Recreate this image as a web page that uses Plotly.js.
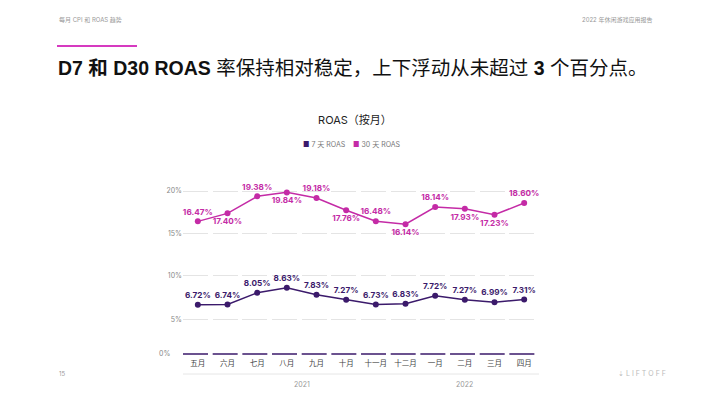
<!DOCTYPE html>
<html><head><meta charset="utf-8">
<script src="https://cdn.plot.ly/plotly-3.0.1.min.js"></script>
<style>html,body{margin:0;padding:0;background:#fff;}#chart{width:710px;height:399px;}</style>
</head><body><div id="chart"></div>
<script>
const months = ['五月','六月','七月','八月','九月','十月','十一月','十二月','一月','二月','三月','四月'];
const roas7 = [6.72, 6.74, 8.05, 8.63, 7.83, 7.27, 6.73, 6.83, 7.72, 7.27, 6.99, 7.31];
const roas30 = [16.47, 17.40, 19.38, 19.84, 19.18, 17.76, 16.48, 16.14, 18.14, 17.93, 17.23, 18.60];
const topTicks = [15, 20];
const midTicks = [5, 10];
const years = ['2021', '2022'];

const H = 399;
const W = 356, L = 183;
const f = px => 1 - px / H;
const gx = px => (px - L) / W;
const purple = '#3b1a6b';
const magenta = '#c42ba6';
const fontCJK = 'Inter, "Noto Sans CJK SC", sans-serif';
const dash = '25px,4.67px';

const pos30 = ['top center','bottom center','top center','bottom center','top center','bottom center','top center','bottom center','top center','bottom center','bottom center','top center'];

const traces = [
  {x: months, y: roas30, xaxis:'x', yaxis:'y', mode:'lines+markers+text', name:'30 天 ROAS',
   line:{color:magenta, width:1.5}, marker:{color:magenta, size:6},
   text: roas30.map(v => v.toFixed(2) + '%'), textposition: pos30,
   textfont:{color:magenta, size:8.2, family:'Inter, sans-serif', weight:700}, cliponaxis:false},
  {x: months, y: roas7, xaxis:'x', yaxis:'y2', mode:'lines+markers+text', name:'7 天 ROAS',
   line:{color:purple, width:1.5}, marker:{color:purple, size:6},
   text: roas7.map(v => v.toFixed(2) + '%'), textposition:'top center',
   textfont:{color:purple, size:8.2, family:'Inter, sans-serif', weight:700}, cliponaxis:false}
];

const yCommon = {anchor:'x', showline:false, zeroline:false, ticks:'',
  tickfont:{size:7, color:'#888', family:fontCJK}, gridcolor:'#e4e4e4', gridwidth:1, griddash:dash, fixedrange:true};

const layout = {
  width:710, height:399,
  margin:{l:L, r:710-L-W, t:0, b:0},
  paper_bgcolor:'#fff', plot_bgcolor:'rgba(0,0,0,0)',
  showlegend:false,
  title:{text:'ROAS（按月）', x:0.5, xanchor:'center', y:f(120), yanchor:'middle',
    font:{size:11, color:'#222', family:fontCJK}},
  xaxis:{type:'category', anchor:'free', position:f(357), domain:[0,1], range:[-0.5, 11.5], showgrid:false, showline:false, zeroline:false,
    ticks:'', ticklabelstandoff:0, tickfont:{size:7.5, color:'#444', family:fontCJK}, fixedrange:true},
  yaxis: Object.assign({}, yCommon, {domain:[f(245), f(180)], range:[13.72, 21.28], tickvals: topTicks, ticktext: topTicks.map(v => v + '%')}),
  yaxis2: Object.assign({}, yCommon, {domain:[f(330), f(262)], range:[3.86, 11.53], tickvals: midTicks, ticktext: midTicks.map(v => v + '%')}),
  shapes:[
    {type:'line', xref:'x domain', yref:'paper', x0:0, x1:1, y0:f(354), y1:f(354), line:{color:purple, width:1.6, dash:dash}},
    {type:'line', xref:'x domain', yref:'paper', x0:0, x1:1, y0:f(374), y1:f(374), line:{color:'#e6e6e6', width:1}},
    {type:'line', xref:'paper', yref:'paper', x0:gx(57), x1:gx(137), y0:f(46), y1:f(46), line:{color:'#d63ac0', width:2}}
  ],
  annotations:[
    {text:'0%', xref:'paper', yref:'paper', x:gx(172), xanchor:'right', y:f(353), yanchor:'middle', showarrow:false,
     font:{size:7, color:'#888', family:fontCJK}},
    {text:'<span style="color:' + purple + '">■</span> 7 天 ROAS    <span style="color:' + magenta + '">■</span> 30 天 ROAS',
     xref:'paper', yref:'paper', x:gx(352), xanchor:'center', y:f(145), yanchor:'middle', showarrow:false,
     font:{size:7, color:'#777', family:fontCJK}},
    {text:years[0], xref:'x', x:3.5, yref:'paper', y:f(384), yanchor:'middle', showarrow:false, font:{size:7, color:'#999', family:fontCJK}},
    {text:years[1], xref:'x', x:9, yref:'paper', y:f(384), yanchor:'middle', showarrow:false, font:{size:7, color:'#999', family:fontCJK}},
    {text:'<b>D7 和 D30 ROAS</b> 率保持相对稳定，上下浮动从未超过 <b>3</b> 个百分点。', xref:'paper', yref:'paper',
     x:gx(56), xanchor:'left', y:f(68), yanchor:'middle', showarrow:false,
     font:{size:19.5, color:'#111', family:'"Liberation Sans", "Noto Sans CJK SC", sans-serif'}},
    {text:'每月 CPI 和 ROAS 趋势', xref:'paper', yref:'paper', x:gx(57), xanchor:'left', y:f(20), yanchor:'middle',
     showarrow:false, font:{size:6, color:'#999', family:fontCJK}},
    {text:'2022 年休闲游戏应用报告', xref:'paper', yref:'paper', x:gx(654), xanchor:'right', y:f(20), yanchor:'middle',
     showarrow:false, font:{size:6, color:'#999', family:fontCJK}},
    {text:'15', xref:'paper', yref:'paper', x:gx(57), xanchor:'left', y:f(373), yanchor:'middle',
     showarrow:false, font:{size:6, color:'#999', family:fontCJK}},
    {text:'⇣ L I F T O F F', xref:'paper', yref:'paper', x:gx(668), xanchor:'right', y:f(373), yanchor:'middle',
     showarrow:false, font:{size:7, color:'#bbb', family:fontCJK}}
  ]
};

Plotly.newPlot('chart', traces, layout, {displayModeBar:false, staticPlot:true});
</script></body></html>
